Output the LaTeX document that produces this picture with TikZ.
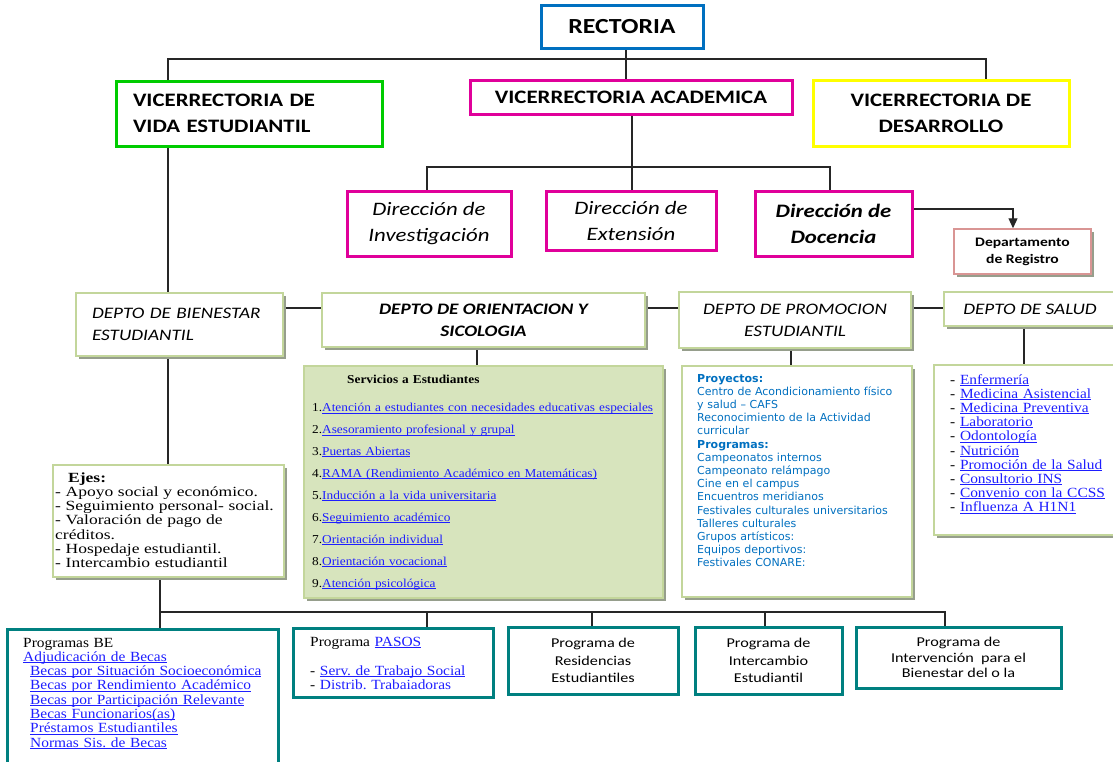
\documentclass[tikz,border=0pt]{standalone}
\usepackage{fontspec}
\usetikzlibrary{arrows.meta,shadows,calc}
\setmainfont{Liberation Serif}[FakeStretch=1.1]
\newfontfamily\serE{Liberation Serif}[FakeStretch=1.25]
\newfontfamily\calfont{Carlito}[FakeStretch=1.2]
\newfontfamily\verfont{DejaVu Sans}
\definecolor{rblue}{RGB}{0,112,192}
\definecolor{vgreen}{RGB}{0,204,0}
\definecolor{mag}{RGB}{224,0,154}
\definecolor{yel}{RGB}{255,255,0}
\definecolor{lgreen}{RGB}{195,214,155}
\definecolor{sgreen}{RGB}{215,228,189}
\definecolor{tealc}{RGB}{0,128,128}
\definecolor{pinkb}{RGB}{217,149,148}
\definecolor{lnk}{RGB}{30,30,255}
\definecolor{ptxt}{RGB}{0,112,192}
\definecolor{shad}{RGB}{150,158,140}
\newcommand{\lk}[1]{\leavevmode{\color{lnk}\sbox0{#1}\rlap{\rule[-1.6pt]{\wd0}{0.9pt}}\usebox0}}
\pgfdeclarelayer{bg}
\pgfsetlayers{bg,main}
\tikzset{
  conn/.style={draw=black!85, line width=1.1pt},
  topbox/.style={draw, line width=3pt, fill=white, inner sep=0pt, align=center,
    font=\calfont\bfseries\fontsize{19}{26}\selectfont},
  dirbox/.style={draw=mag, line width=3pt, fill=white, inner sep=0pt, align=center,
    font=\calfont\itshape\fontsize{19}{26}\selectfont},
  deptbox/.style={draw=lgreen, line width=1.5pt, fill=white, inner sep=0pt,
    drop shadow={shadow xshift=3pt, shadow yshift=-3pt, fill=shad, opacity=1},
    font=\calfont\itshape\fontsize{16}{21.5}\selectfont},
  tealbox/.style={draw=tealc, line width=3pt, fill=white, inner sep=0pt, align=center,
    font=\calfont\fontsize{13.5}{17.5}\selectfont},
  txt/.style={inner sep=0pt, anchor=base west, align=left},
}
\begin{document}
\frenchspacing
\begin{tikzpicture}[x=1pt,y=-1pt]
\useasboundingbox (0,0) rectangle (1113,761);
% top level
\node[topbox, draw=rblue, minimum width=162, minimum height=43,
  font=\calfont\bfseries\fontsize{21.5}{26}\selectfont] (rect) at (622,26.5) {RECTORIA};
\node[topbox, draw=vgreen, minimum width=266, minimum height=65, text width=232, align=left]
  (vve) at (249,113.5) {VICERRECTORIA DE\\VIDA ESTUDIANTIL};
\node[topbox, draw=mag, minimum width=322, minimum height=34] (va) at (631,97) {VICERRECTORIA ACADEMICA};
\node[topbox, draw=yel, minimum width=256, minimum height=66] (vd) at (941,113) {VICERRECTORIA DE\\DESARROLLO};
% direcciones
\node[dirbox, minimum width=164, minimum height=65] (dinv) at (429,223.5) {Dirección de\\Investigación};
\node[dirbox, minimum width=170, minimum height=59] (dext) at (631,220.5) {Dirección de\\Extensión};
\node[dirbox, minimum width=157, minimum height=65, font=\calfont\bfseries\itshape\fontsize{19}{26}\selectfont]
  (ddoc) at (833.5,223.5) {Dirección de\\Docencia};
\node[deptbox, draw=pinkb, minimum width=137, minimum height=45, align=center,
  font=\calfont\bfseries\fontsize{13}{17}\selectfont] (reg) at (1022.5,251.5) {Departamento\\de Registro};
% departamentos
\node[deptbox, minimum width=207, minimum height=63, text width=175, align=left]
  (bien) at (179.5,324.5) {DEPTO DE BIENESTAR\\ESTUDIANTIL};
\node[deptbox, minimum width=323, minimum height=54, align=center,
  font=\calfont\bfseries\itshape\fontsize{16}{22}\selectfont]
  (orient) at (483.5,320) {DEPTO DE ORIENTACION Y\\SICOLOGIA};
\node[deptbox, minimum width=232, minimum height=56, align=center,
  font=\calfont\itshape\fontsize{16}{22}\selectfont] (prom) at (795,320) {DEPTO DE PROMOCION\\ESTUDIANTIL};
\node[deptbox, minimum width=172, minimum height=34] (salud) at (1030,309) {DEPTO DE SALUD};
% content boxes
\node[deptbox, minimum width=231, minimum height=112] (ejes) at (168.5,521) {};
\node[deptbox, fill=sgreen, minimum width=359, minimum height=232] (servbox) at (483.5,482) {};
\node[deptbox, minimum width=230, minimum height=231] (promc) at (797,481.5) {};
\node[deptbox, minimum width=186, minimum height=170] (saludc) at (1027,450) {};
% texts
\node[txt, text width=225, font=\serE\fontsize{14}{14.3}\selectfont] (ejestxt) at (55,482)
 {\hspace*{13pt}\textbf{Ejes:}\\
  - Apoyo social y económico.\\
  - Seguimiento personal- social.\\
  - Valoración de pago de\\
  créditos.\\
  - Hospedaje estudiantil.\\
  - Intercambio estudiantil};
\node[txt, text width=350, font=\fontsize{12.1}{21.9}\selectfont] (servtxt) at (312,383)
 {\hspace*{35pt}\textbf{Servicios a Estudiantes}\\[7pt]
  1.\lk{Atención a estudiantes con necesidades educativas especiales}\\
  2.\lk{Asesoramiento profesional y grupal}\\
  3.\lk{Puertas Abiertas}\\
  4.\lk{RAMA (Rendimiento Académico en Matemáticas)}\\
  5.\lk{Inducción a la vida universitaria}\\
  6.\lk{Seguimiento académico}\\
  7.\lk{Orientación individual}\\
  8.\lk{Orientación vocacional}\\
  9.\lk{Atención psicológica}};
\node[txt, text width=215, text=ptxt, font=\verfont\fontsize{11}{13.2}\selectfont] (promtxt) at (697,382)
 {\textbf{Proyectos:}\\
  Centro de Acondicionamiento físico\\
  y salud – CAFS\\
  Reconocimiento de la Actividad\\
  curricular\\
  \textbf{Programas:}\\
  Campeonatos internos\\
  Campeonato relámpago\\
  Cine en el campus\\
  Encuentros meridianos\\
  Festivales culturales universitarios\\
  Talleres culturales\\
  Grupos artísticos:\\
  Equipos deportivos:\\
  Festivales CONARE:};
\node[txt, text width=160, font=\fontsize{14}{14.2}\selectfont] (saludtxt) at (950,384)
 {- \lk{Enfermería}\\
  - \lk{Medicina Asistencial}\\
  - \lk{Medicina Preventiva}\\
  - \lk{Laboratorio}\\
  - \lk{Odontología}\\
  - \lk{Nutrición}\\
  - \lk{Promoción de la Salud}\\
  - \lk{Consultorio INS}\\
  - \lk{Convenio con la CCSS}\\
  - \lk{Influenza A H1N1}};
% bottom boxes
\node[tealbox, minimum width=271, minimum height=146] (be) at (142.5,702) {};
\node[tealbox, minimum width=200, minimum height=69] (pasos) at (393,662.5) {};
\node[tealbox, minimum width=170, minimum height=67] (res) at (593,660.5) {Programa de\\Residencias\\Estudiantiles};
\node[tealbox, minimum width=147, minimum height=67] (inter) at (768.5,660.5) {Programa de\\Intercambio\\Estudiantil};
\node[tealbox, minimum width=205, minimum height=61, font=\calfont\fontsize{13.5}{15.5}\selectfont]
  (interv) at (958.5,657.5) {Programa de\\Intervención\ \ para el\\Bienestar del o la};
\node[txt, text width=250, font=\fontsize{14}{14.3}\selectfont] (betxt) at (23,647)
 {Programas BE\\
  \lk{Adjudicación de Becas}\\
  \hspace*{7pt}\lk{Becas por Situación Socioeconómica}\\
  \hspace*{7pt}\lk{Becas por Rendimiento Académico}\\
  \hspace*{7pt}\lk{Becas por Participación Relevante}\\
  \hspace*{7pt}\lk{Becas Funcionarios(as)}\\
  \hspace*{7pt}\lk{Préstamos Estudiantiles}\\
  \hspace*{7pt}\lk{Normas Sis. de Becas}};
\node[txt, text width=180, font=\fontsize{14}{14}\selectfont] (pasostxt) at (310,646)
 {Programa \lk{PASOS}\\[15pt]
  - \lk{Serv. de Trabajo Social}\\
  - {\color{lnk}Distrib. Trabaiadoras}};
% connectors
\coordinate (tl) at (168,59); \coordinate (tm) at (626,59); \coordinate (tr) at (986,59);
\coordinate (ml) at (427,167); \coordinate (mm) at (632,167); \coordinate (mr) at (830,167);
\coordinate (ra) at (1013,209);
\coordinate (hy) at (0,308);
\coordinate (od) at (477,0); \coordinate (pd) at (791,0); \coordinate (sd) at (1024,0);
\coordinate (b1) at (160,612); \coordinate (b2) at (427,612); \coordinate (b3) at (592,612);
\coordinate (b4) at (765,612); \coordinate (b5) at (945,612);
\begin{pgfonlayer}{bg}
\draw[conn] (tl |- vve.north) -- (tl) -- (tr) -- (tr |- vd.north);
\draw[conn] (tm |- rect.south) -- (tm |- va.north);
\draw[conn] (tl |- vve.south) -- (tl |- bien.north);
\draw[conn] (ml |- dinv.north) -- (ml) -- (mr) -- (mr |- ddoc.north);
\draw[conn] (mm |- va.south) -- (mm |- dext.north);
\draw[conn, -{Triangle[width=9pt,length=10pt]}] (ddoc.east |- ra) -- (ra) -- (ra |- reg.north);
\draw[conn] (bien.east |- hy) -- (orient.west |- hy);
\draw[conn] (orient.east |- hy) -- (prom.west |- hy);
\draw[conn] (prom.east |- hy) -- (salud.west |- hy);
\draw[conn] (od |- orient.south) -- (od |- servbox.north);
\draw[conn] (pd |- prom.south) -- (pd |- promc.north);
\draw[conn] (sd |- salud.south) -- (sd |- saludc.north);
\draw[conn] (tl |- bien.south) -- (tl |- ejes.north);
\draw[conn] (b1 |- ejes.south) -- (b1) -- (b5) -- (b5 |- interv.north);
\draw[conn] (b1) -- (b1 |- be.north);
\draw[conn] (b2) -- (b2 |- pasos.north);
\draw[conn] (b3) -- (b3 |- res.north);
\draw[conn] (b4) -- (b4 |- inter.north);
\end{pgfonlayer}
\end{tikzpicture}
\end{document}
